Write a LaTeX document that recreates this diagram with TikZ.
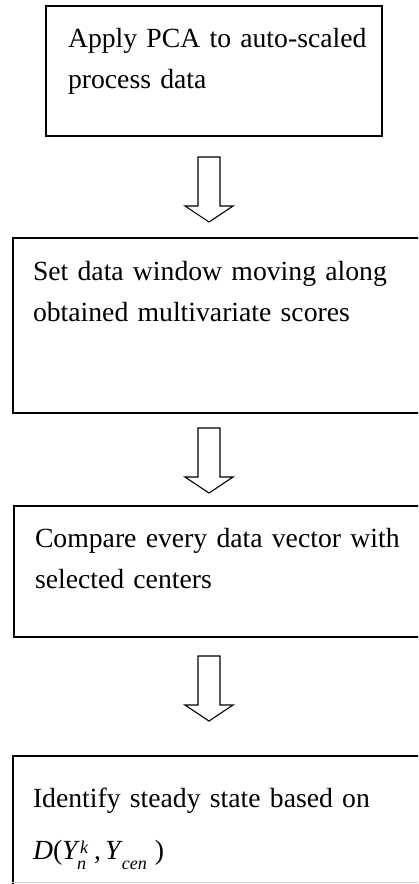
\documentclass[tikz,border=0pt]{standalone}
\usepackage{fontspec}
\setmainfont{Liberation Serif}
\newcommand{\idx}[1]{{\fontsize{18}{18}\selectfont\itshape #1}}
\begin{document}
\begin{tikzpicture}[x=1pt,y=-1pt,
  stepbox/.style={draw=black,line width=1.5pt,rectangle,anchor=north west,inner sep=0pt},
  steptext/.style={anchor=base west,inner sep=0pt,outer sep=0pt,align=left,
    font=\fontsize{27.7}{41}\selectfont},
  arrowline/.style={draw=black,line width=1.1pt,line join=miter},
  downarrow/.pic={\draw[arrowline] (-11,0) -- (-11,49) -- (-24,49) -- (0,65)
     -- (24,49) -- (11,49) -- (11,0) -- cycle;}
]
\useasboundingbox (0,0) rectangle (418,884);
\clip (0,0) rectangle (418,884);

% process steps
\node[stepbox,minimum width=336pt,minimum height=130pt] (b1) at (45,5) {};
\node[stepbox,minimum width=420pt,minimum height=175pt] (b2) at (12,237) {};
\node[stepbox,minimum width=420pt,minimum height=131pt] (b3) at (13,505) {};
\node[stepbox,minimum width=420pt,minimum height=140pt] (b4) at (12,755) {};
\draw[black!20,line width=1pt] (b4.west |- 0,882.5) -- (418,882.5);

\node[steptext,text width=310pt] (t1) at (68,47)
  {Apply PCA to auto-scaled\\process data};
\node[steptext,text width=373pt] (t2) at (33,280)
  {\makebox[\hsize][s]{Set data window moving along}\\obtained multivariate scores};
\node[steptext,text width=365pt] (t3) at (35,547)
  {\makebox[\hsize][s]{Compare every data vector with}\\selected centers};
\node[steptext,text width=373pt] (t4) at (33,807)
  {\makebox[\hsize][s]{Identify steady state based on}\\[8pt]
   \kern3pt\textit{D}(\textit{Y}\kern-3pt\rlap{\kern3pt\raisebox{6pt}{\idx{k}}}%
   \raisebox{-10pt}{\idx{n}}\kern8pt,\kern4pt\textit{Y}\kern-1pt\raisebox{-10pt}{\idx{cen}}\kern8pt)};

% hollow arrows between the steps
\pic (a1) at (209,157) {downarrow};
\pic (a2) at (209,428) {downarrow};
\pic (a3) at (209,656) {downarrow};
\end{tikzpicture}
\end{document}
